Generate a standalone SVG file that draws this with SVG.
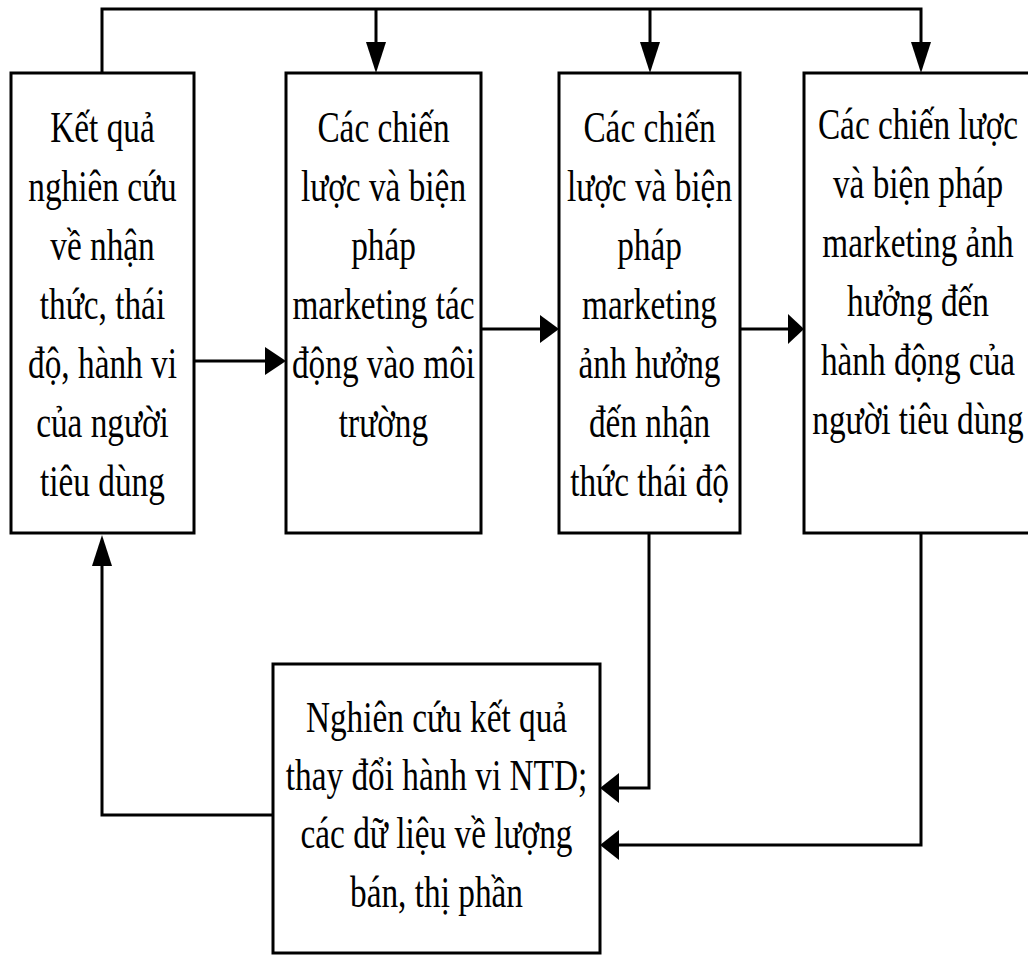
<svg xmlns="http://www.w3.org/2000/svg" width="1028" height="956" viewBox="0 0 1028 956">
<style>
.box{fill:#fff;stroke:#000;stroke-width:3}
.ln{fill:none;stroke:#000;stroke-width:3}
.ah{fill:#000;stroke:none}
.t{font-family:"Liberation Serif","Times New Roman",serif;font-size:45px;fill:#000;text-anchor:middle}
</style>
<rect width="1028" height="956" fill="#fff"/>
<g id="connectors">
<polyline class="ln" points="102,73 102,9 921,9 921,44"/>
<line class="ln" x1="376" y1="9" x2="376" y2="44"/>
<line class="ln" x1="650" y1="9" x2="650" y2="44"/>
<polygon class="ah" points="366,42 386,42 376,73"/>
<polygon class="ah" points="640,42 660,42 650,73"/>
<polygon class="ah" points="911,42 931,42 921,73"/>
<line class="ln" x1="194" y1="361" x2="267" y2="361"/>
<polygon class="ah" points="265,347 265,375 286,361"/>
<line class="ln" x1="481" y1="329" x2="542" y2="329"/>
<polygon class="ah" points="540,315 540,343 559,329"/>
<line class="ln" x1="740" y1="329" x2="790" y2="329"/>
<polygon class="ah" points="788,314 788,344 804,329"/>
<polyline class="ln" points="649,533 649,788 617,788"/>
<polygon class="ah" points="600,788 619,773 619,803"/>
<polyline class="ln" points="921,533 921,845 617,845"/>
<polygon class="ah" points="600,845 619,830 619,860"/>
<polyline class="ln" points="273,815 102,815 102,564"/>
<polygon class="ah" points="102,535 92,566 112,566"/>
</g>
<g id="node1">
<rect class="box" x="11" y="73" width="183" height="460"/>
<g transform="translate(102.5,0) scale(0.74,1)">
<text class="t" x="0" y="142">Kết quả</text>
<text class="t" x="0" y="201">nghiên cứu</text>
<text class="t" x="0" y="260">về nhận</text>
<text class="t" x="0" y="319">thức, thái</text>
<text class="t" x="0" y="378">độ, hành vi</text>
<text class="t" x="0" y="437">của người</text>
<text class="t" x="0" y="496">tiêu dùng</text>
</g>
</g>
<g id="node2">
<rect class="box" x="286" y="73" width="195" height="460"/>
<g transform="translate(383.5,0) scale(0.74,1)">
<text class="t" x="0" y="142">Các chiến</text>
<text class="t" x="0" y="201">lược và biện</text>
<text class="t" x="0" y="260">pháp</text>
<text class="t" x="0" y="319">marketing tác</text>
<text class="t" x="0" y="378">động vào môi</text>
<text class="t" x="0" y="437">trường</text>
</g>
</g>
<g id="node3">
<rect class="box" x="559" y="73" width="181" height="460"/>
<g transform="translate(649.5,0) scale(0.74,1)">
<text class="t" x="0" y="142">Các chiến</text>
<text class="t" x="0" y="201">lược và biện</text>
<text class="t" x="0" y="260">pháp</text>
<text class="t" x="0" y="319">marketing</text>
<text class="t" x="0" y="378">ảnh hưởng</text>
<text class="t" x="0" y="437">đến nhận</text>
<text class="t" x="0" y="496">thức thái độ</text>
</g>
</g>
<g id="node4">
<rect class="box" x="804" y="73" width="228" height="460"/>
<g transform="translate(918,0) scale(0.74,1)">
<text class="t" x="0" y="139">Các chiến lược</text>
<text class="t" x="0" y="198">và biện pháp</text>
<text class="t" x="0" y="257">marketing ảnh</text>
<text class="t" x="0" y="316">hưởng đến</text>
<text class="t" x="0" y="375">hành động của</text>
<text class="t" x="0" y="434">người tiêu dùng</text>
</g>
</g>
<g id="node5">
<rect class="box" x="273" y="664" width="327" height="289"/>
<g transform="translate(436.5,0) scale(0.74,1)">
<text class="t" x="0" y="732">Nghiên cứu kết quả</text>
<text class="t" x="0" y="790">thay đổi hành vi NTD;</text>
<text class="t" x="0" y="848">các dữ liệu về lượng</text>
<text class="t" x="0" y="907">bán, thị phần</text>
</g>
</g>
</svg>
